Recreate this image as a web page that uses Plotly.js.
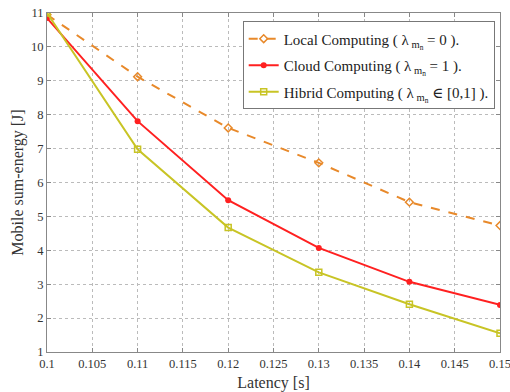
<!DOCTYPE html>
<html><head><meta charset="utf-8">
<script src="https://cdn.plot.ly/plotly-3.0.1.min.js"></script>
<style>html,body{margin:0;padding:0;background:#fff}#c{width:510px;height:392px}</style>
</head><body><div id="c"></div>
<script>
const latency = [0.10, 0.11, 0.12, 0.13, 0.14, 0.15];
const localEnergy = [10.95, 9.12, 7.61, 6.58, 5.42, 4.73];
const cloudEnergy = [10.85, 7.81, 5.48, 4.07, 3.07, 2.39];
const hybridEnergy = [11.0, 6.98, 4.67, 3.35, 2.41, 1.55];
const seriesNames = [
  "Local Computing ( λ<sub> m<sub>n</sub></sub> = 0 ).",
  "Cloud Computing ( λ<sub> m<sub>n</sub></sub> = 1 ).",
  "Hibrid Computing ( λ<sub> m<sub>n</sub></sub> ∈ [0,1] )."
];
const xTicks = [0.1,0.105,0.11,0.115,0.12,0.125,0.13,0.135,0.14,0.145,0.15];
const xTickText = ["0.1","0.105","0.11","0.115","0.12","0.125","0.13","0.135","0.14","0.145","0.15"];
const yTicks = [1,2,3,4,5,6,7,8,9,10,11];

const SERIF = "'Liberation Serif', 'Times New Roman', 'DejaVu Serif', serif";

const traces = [
  {x: latency, y: localEnergy, name: seriesNames[0], legendgroup: "a", mode: "lines+markers",
   line: {color: "#E8892A", width: 2, dash: "dash"},
   marker: {symbol: "diamond-open", size: 6, color: "#E8892A", line: {width: 1.5}}},
  {x: latency, y: cloudEnergy, name: seriesNames[1], legendgroup: "b", mode: "lines+markers",
   line: {color: "#FF2020", width: 2},
   marker: {symbol: "circle", size: 6, color: "#FF2020"}},
  {x: latency, y: hybridEnergy, name: seriesNames[2], legendgroup: "c", mode: "lines+markers",
   line: {color: "#C8C425", width: 2},
   marker: {symbol: "square-open", size: 6, color: "#C8C425", line: {width: 1.5}}}
];

const axisCommon = {
  showline: true, mirror: "ticks", linecolor: "#888", linewidth: 1,
  ticks: "inside", ticklen: 4, tickcolor: "#888",
  showgrid: true, gridcolor: "#bbb", griddash: "dot", gridwidth: 1,
  zeroline: false, ticklabeloverflow: "allow",
  tickfont: {family: SERIF, size: 12.5, color: "#333"}
};

const layout = {
  width: 510, height: 392,
  margin: {l: 47, r: 10, t: 13, b: 40},
  paper_bgcolor: "#fff", plot_bgcolor: "#fff",
  showlegend: true,
  legend: {x: 0.432, y: 0.975, xanchor: "left", yanchor: "top",
    bgcolor: "#fff", bordercolor: "#777", borderwidth: 1,
    font: {family: SERIF, size: 15, color: "#222"},
    tracegroupgap: 4},
  xaxis: Object.assign({}, axisCommon, {
    range: [0.1, 0.1500001], tickvals: xTicks, ticktext: xTickText,
    title: {text: "Latency [s]", standoff: 6, font: {family: SERIF, size: 16, color: "#333"}}
  }),
  yaxis: Object.assign({}, axisCommon, {
    range: [1, 11], tickvals: yTicks,
    title: {text: "Mobile sum-energy [J]", standoff: 3, font: {family: SERIF, size: 16, color: "#333"}}
  })
};

Plotly.newPlot("c", traces, layout, {displayModeBar: false, staticPlot: true});
</script>
</body></html>
